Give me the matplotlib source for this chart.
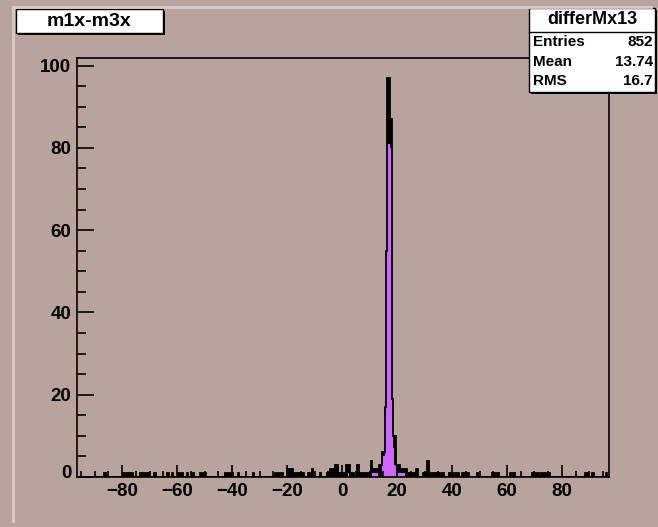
import numpy as np
import matplotlib
matplotlib.use('Agg')
import matplotlib.pyplot as plt
from matplotlib.patches import Rectangle
import matplotlib.transforms as mtransforms

# histogram binning (0.5 wide bins)
bin_lo = -96.5
bin_hi = 97.0
bin_width = 0.5

# all entries: runs of equal content (left edge, right edge, count)
all_run_lo = [-86.5, -79.5, -77.0, -73.5, -68.5, -63.5, -62.0, -59.5, -56.5, -54.5,
              -51.5, -42.5, -38.0, -32.5, -24.5, -22.5, -20.0, -18.0, -15.5, -12.5,
              -11.5, -11.0, -8.0, -5.5, -4.5, -2.5, -1.5, 1.5, 3.0, 5.5,
              6.0, 10.5, 11.0, 13.0, 13.5, 14.5, 15.5, 16.0, 16.5, 17.5,
              18.0, 18.5, 19.5, 21.0, 23.5, 27.0, 29.5, 31.0, 32.5, 36.5,
              39.0, 41.0, 43.5, 49.0, 54.5, 61.0, 69.0, 72.5, 88.5, 91.0, 96.0]
all_run_hi = [-86.0, -77.5, -76.0, -70.0, -67.5, -63.0, -61.5, -58.0, -56.0, -54.0,
              -49.5, -39.5, -37.5, -32.0, -22.5, -21.5, -18.0, -15.5, -14.0, -12.0,
              -11.0, -10.5, -7.5, -4.5, -2.5, -1.5, 1.5, 3.0, 4.5, 6.0,
              10.0, 11.0, 13.0, 13.5, 14.5, 15.5, 16.0, 16.5, 17.5, 18.0,
              18.5, 19.5, 21.0, 23.5, 27.0, 27.5, 31.0, 31.5, 35.5, 37.0,
              40.5, 42.5, 46.0, 49.5, 57.0, 63.0, 71.5, 75.5, 90.0, 91.5, 96.5]
all_run_n = [1, 1, 1, 1, 1, 1, 1, 1, 1, 1,
             1, 1, 1, 1, 1, 1, 2, 1, 1, 1,
             1, 2, 1, 1, 2, 3, 1, 3, 1, 3,
             1, 4, 2, 2, 3, 6, 17, 55, 97, 87,
             19, 10, 3, 2, 1, 2, 1, 4, 1, 1,
             1, 1, 1, 1, 1, 1, 1, 1, 1, 1, 1]

# selected entries (purple fill)
sel_run_lo = [-8.0, 2.0, 11.0, 14.5, 15.0, 15.5, 16.0, 16.5, 17.5, 18.0, 18.5, 19.0, 20.5]
sel_run_hi = [-7.5, 2.5, 13.0, 15.0, 15.5, 16.0, 16.5, 17.5, 18.0, 18.5, 19.0, 19.5, 23.0]
sel_run_n = [1, 1, 1, 3, 5, 15, 53, 81, 80, 17, 7, 3, 1]

hist_name = 'm1x-m3x'
stats_title = 'differMx13'
stats_rows = [('Entries', '852'), ('Mean', '13.74'), ('RMS', '16.7')]

x_major = [-80, -60, -40, -20, 0, 20, 40, 60, 80]
y_major = [0, 20, 40, 60, 80, 100]

BG = '#b8a49d'
PURPLE = '#cc66ff'


def fill_runs(edges, lo, hi, n):
  counts = np.zeros(len(edges) - 1)
  left = edges[:-1]
  for a, b, c in zip(lo, hi, n):
    counts[(left >= a - 1e-9) & (left < b - 1e-9)] = c
  return counts


def main():
  plt.rcParams['font.family'] = ['Liberation Sans', 'DejaVu Sans']
  plt.rcParams['font.weight'] = 'bold'

  edges = np.arange(bin_lo, bin_hi + bin_width / 2, bin_width)
  total = fill_runs(edges, all_run_lo, all_run_hi, all_run_n)
  selected = fill_runs(edges, sel_run_lo, sel_run_hi, sel_run_n)

  fig = plt.figure(figsize=(6.58, 5.27), dpi=100, facecolor=BG)
  ax = fig.add_axes([77 / 658, 1 - 477 / 527, 532 / 658, 419 / 527], facecolor=BG)

  ax.stairs(total, edges, fill=True, color='black', lw=0)
  ax.stairs(selected, edges, fill=True, color=PURPLE, lw=0)
  ax.stairs(total, edges, color='black', lw=1.3)

  ax.set_xlim(-96.4, 97.1)
  ax.set_ylim(0, 97 * 1.05)

  ax.set_xticks(x_major)
  ax.set_xticks(np.arange(-95, 96, 5), minor=True)
  ax.set_yticks(y_major)
  ax.set_yticks(np.arange(0, 101, 5), minor=True)
  ax.tick_params(which='both', direction='in', width=1.2, labelsize=13.5)
  ax.tick_params(axis='x', which='major', length=9, pad=4)
  ax.tick_params(axis='x', which='minor', length=4.5)
  ax.tick_params(axis='y', which='major', length=12, pad=4)
  ax.tick_params(axis='y', which='minor', length=6.5)
  for lab in ax.get_xticklabels() + ax.get_yticklabels():
    lab.set_fontweight('bold')
  # first y label sits a bit higher like in ROOT
  ylabs = ax.get_yticklabels()
  ylabs[0].set_transform(ylabs[0].get_transform() +
                         mtransforms.ScaledTranslation(0, 5 / 100, fig.dpi_scale_trans))
  for s in ax.spines.values():
    s.set_linewidth(1.2)

  # overlay in pixel coordinates for the pave boxes
  ov = fig.add_axes([0, 0, 1, 1], facecolor='none')
  ov.set_xlim(0, 658)
  ov.set_ylim(527, 0)
  ov.axis('off')

  # canvas bevel
  ov.plot([13, 13], [7, 521], color='#d9ccc7', lw=2)
  ov.plot([13, 651], [7, 7], color='#d9ccc7', lw=2)

  # title box
  ov.add_patch(Rectangle((18, 11), 147, 24, facecolor='black', edgecolor='none'))
  ov.add_patch(Rectangle((16, 9), 147, 24, facecolor='white', edgecolor='black', lw=1))
  ov.text(89, 21.5, hist_name, ha='center', va='center', fontsize=14, fontweight='bold')

  # stats box
  ov.add_patch(Rectangle((531, 10), 126, 84, facecolor='black', edgecolor='none'))
  ov.add_patch(Rectangle((529, 8), 126, 84, facecolor='white', edgecolor='black', lw=1))
  ov.plot([529, 655], [32, 32], color='black', lw=1)
  ov.text(592, 20, stats_title, ha='center', va='center', fontsize=13, fontweight='bold')
  for i, (k, v) in enumerate(stats_rows):
    yy = 42 + i * 19.7
    ov.text(533, yy, k, ha='left', va='center', fontsize=11, fontweight='bold')
    ov.text(653, yy, v, ha='right', va='center', fontsize=11, fontweight='bold')

  fig.savefig('out.png', dpi=100, facecolor=BG)
  return 0


if __name__ == '__main__':
  main()
